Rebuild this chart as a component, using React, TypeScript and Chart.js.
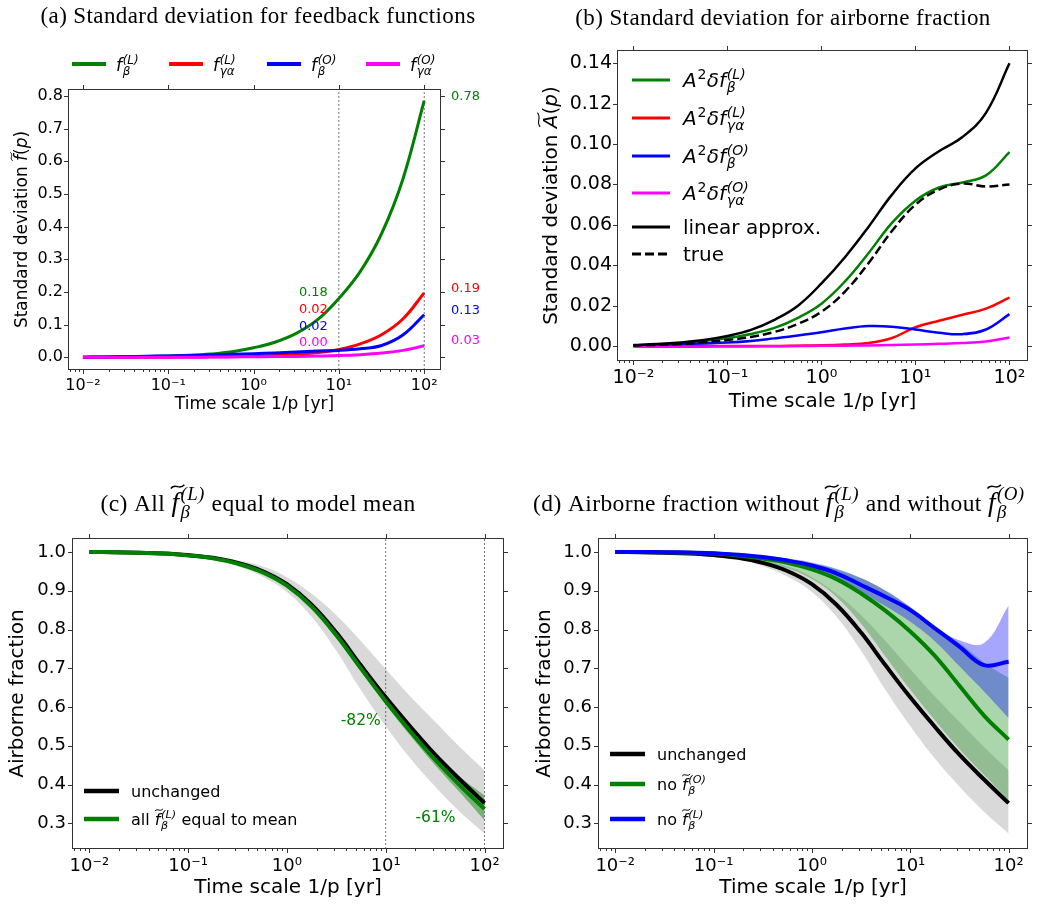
import React, { useEffect, useRef } from "react";
import { Chart, registerables } from "chart.js";
Chart.register(...registerables);

// ---------- shared x values (time scale 1/p in years, quarter decades) ----------
const TIME_SCALE = [0.01, 0.01778, 0.03162, 0.05623, 0.1, 0.1778, 0.3162, 0.5623, 1, 1.778, 3.162, 5.623, 10, 17.78, 31.62, 56.23, 100];
const X_TICKS = [0.01, 0.1, 1, 10, 100];
const X_TICK_LABELS = ["10⁻²", "10⁻¹", "10⁰", "10¹", "10²"];
const X_MIN = 0.006683;
const X_MAX = 157.4;
const X_TITLE = "Time scale 1/p [yr]";

// ---------- panel (a): standard deviation of feedback functions ----------
const A_FB_L = [0.0, 0.001, 0.0015, 0.0025, 0.004, 0.006, 0.01, 0.017, 0.029, 0.046, 0.073, 0.115, 0.18, 0.262, 0.378, 0.545, 0.785];
const A_FGA_L = [0, 0, 0, 0, 0.0004, 0.0008, 0.0012, 0.002, 0.003, 0.005, 0.0085, 0.0143, 0.024, 0.041, 0.069, 0.117, 0.197];
const A_FB_O = [0, 0.001, 0.002, 0.003, 0.004, 0.005, 0.007, 0.009, 0.011, 0.013, 0.016, 0.019, 0.021, 0.026, 0.036, 0.068, 0.13];
const A_FGA_O = [0, 0, 0, 0, 0, 0, 0.0005, 0.001, 0.0015, 0.002, 0.0025, 0.0035, 0.005, 0.008, 0.013, 0.021, 0.035];
const A_Y_TICKS = [0, 0.1, 0.2, 0.3, 0.4, 0.5, 0.6, 0.7, 0.8];
const A_Y_MIN = -0.039;
const A_Y_MAX = 0.821;
const A_VLINES = [10, 100];
const A_MID_LABELS = ["0.18", "0.02", "0.02", "0.00"];
const A_MID_Y = [0.197, 0.145, 0.093, 0.044];
const A_END_LABELS = ["0.78", "0.19", "0.13", "0.03"];
const A_END_Y = [0.797, 0.209, 0.142, 0.05];

// ---------- panel (b): standard deviation of airborne fraction ----------
const B_FB_L = [0.0004, 0.0008, 0.0014, 0.0025, 0.004, 0.006, 0.009, 0.014, 0.021, 0.032, 0.046, 0.061, 0.072, 0.0785, 0.081, 0.0845, 0.096];
const B_FGA_L = [0, 0, 0, 0, 0, 0, 0, 0.0002, 0.0004, 0.0008, 0.0015, 0.004, 0.0093, 0.0125, 0.0155, 0.0185, 0.024];
const B_FB_O = [0.0003, 0.0006, 0.001, 0.0013, 0.0017, 0.0025, 0.0038, 0.0052, 0.0068, 0.0087, 0.0099, 0.0096, 0.0082, 0.0066, 0.0059, 0.0082, 0.0158];
const B_FGA_O = [-0.0003, -0.0003, -0.0003, -0.0003, -0.0002, -0.0002, -0.0001, 0, 0.0001, 0.0002, 0.0003, 0.0005, 0.0008, 0.0011, 0.0015, 0.0023, 0.0042];
const B_LINEAR = [0.0005, 0.001, 0.0018, 0.003, 0.005, 0.008, 0.013, 0.02, 0.031, 0.044, 0.059, 0.075, 0.088, 0.0965, 0.1035, 0.1155, 0.14];
const B_TRUE = [0.0003, 0.0006, 0.001, 0.002, 0.003, 0.0045, 0.007, 0.011, 0.017, 0.027, 0.041, 0.057, 0.07, 0.0775, 0.0805, 0.079, 0.08];
const B_Y_TICKS = [0, 0.02, 0.04, 0.06, 0.08, 0.1, 0.12, 0.14];
const B_Y_MIN = -0.0074;
const B_Y_MAX = 0.1466;

// ---------- panels (c) and (d): airborne fraction ----------
const AF_UNCHANGED = [1.0, 0.9995, 0.998, 0.996, 0.992, 0.985, 0.972, 0.951, 0.917, 0.864, 0.792, 0.707, 0.625, 0.549, 0.477, 0.413, 0.352];
const AF_UNCHANGED_HI = [1.0, 0.9997, 0.999, 0.997, 0.994, 0.989, 0.979, 0.963, 0.935, 0.892, 0.837, 0.77, 0.698, 0.627, 0.562, 0.497, 0.437];
const AF_UNCHANGED_LO = [1.0, 0.9993, 0.997, 0.994, 0.99, 0.981, 0.963, 0.937, 0.897, 0.833, 0.745, 0.643, 0.551, 0.467, 0.395, 0.33, 0.274];
const C_MEAN = [1.0, 0.9995, 0.998, 0.996, 0.991, 0.984, 0.97, 0.948, 0.913, 0.859, 0.785, 0.699, 0.615, 0.537, 0.464, 0.398, 0.337];
const C_MEAN_HI = [1.0, 0.9996, 0.9982, 0.9962, 0.9915, 0.9845, 0.971, 0.95, 0.916, 0.863, 0.791, 0.706, 0.624, 0.548, 0.479, 0.42, 0.372];
const C_MEAN_LO = [1.0, 0.9994, 0.9978, 0.9958, 0.9905, 0.9835, 0.969, 0.946, 0.91, 0.855, 0.779, 0.692, 0.606, 0.526, 0.45, 0.38, 0.308];
const D_NO_O = [1.0, 0.9997, 0.9993, 0.998, 0.996, 0.991, 0.983, 0.972, 0.955, 0.93, 0.893, 0.848, 0.795, 0.732, 0.655, 0.578, 0.516];
const D_NO_O_HI = [1.0, 0.9998, 0.9996, 0.999, 0.998, 0.995, 0.99, 0.982, 0.97, 0.955, 0.932, 0.9, 0.858, 0.81, 0.765, 0.715, 0.675];
const D_NO_O_LO = [1.0, 0.9996, 0.999, 0.997, 0.993, 0.986, 0.975, 0.958, 0.93, 0.884, 0.815, 0.73, 0.645, 0.566, 0.492, 0.425, 0.36];
const D_NO_L = [1.0, 0.9998, 0.9995, 0.9985, 0.997, 0.993, 0.987, 0.978, 0.965, 0.945, 0.915, 0.884, 0.85, 0.803, 0.756, 0.708, 0.717];
const D_NO_L_HI = [1.0, 0.9999, 0.9997, 0.999, 0.998, 0.995, 0.99, 0.983, 0.973, 0.957, 0.933, 0.9, 0.858, 0.807, 0.772, 0.765, 0.862];
const D_NO_L_LO = [1.0, 0.9997, 0.9993, 0.998, 0.996, 0.991, 0.984, 0.973, 0.957, 0.933, 0.897, 0.86, 0.82, 0.77, 0.705, 0.64, 0.572];
const AF_Y_TICKS = [0.3, 0.4, 0.5, 0.6, 0.7, 0.8, 0.9, 1.0];
const AF_Y_MIN = 0.2337;
const AF_Y_MAX = 1.0361;
const C_VLINES = [10, 100];
const C_NOTES = ["-82%", "-61%"];
const C_NOTE_X = [10, 100];
const C_NOTE_Y = [0.564, 0.314];

// ---------- styling ----------
const GREEN = "#008000";
const RED = "#ff0000";
const BLUE = "#0000ff";
const MAGENTA = "#ff00ff";
const BLACK = "#000000";
const SANS = '"DejaVu Sans", sans-serif';
const SERIF = '"Liberation Serif", serif';
const TENSION = 0.4;

Chart.defaults.font.family = SANS;
Chart.defaults.color = "#000";

type Piece = { t: string; it?: boolean; tilde?: boolean; sup?: string; sub?: string; supIt?: boolean; ms?: number };

function fnt(size: number, it: boolean, fam: string) {
  return `${it ? "italic " : ""}${size}px ${fam}`;
}

function measurePiece(ctx: any, p: Piece, size0: number, fam: string) {
  const size = size0 * (p.ms || 1);
  ctx.font = fnt(size, !!p.it, fam);
  const bw = ctx.measureText(p.t).width;
  let sw = 0;
  if (p.sup || p.sub) {
    const s = size * 0.7;
    ctx.font = fnt(s, !!p.supIt, fam);
    const a = p.sup ? ctx.measureText(p.sup).width : 0;
    ctx.font = fnt(s, true, fam);
    const b = p.sub ? ctx.measureText(p.sub).width : 0;
    sw = Math.max(a, b) + size * 0.06;
  }
  return { bw, w: bw + sw };
}

function drawRich(ctx: any, pieces: Piece[], x: number, cy: number, size0: number, fam: string, color: string, align: string, spacing = 0) {
  ctx.save();
  ctx.letterSpacing = spacing + "px";
  const ms = pieces.map((p) => measurePiece(ctx, p, size0, fam));
  const total = ms.reduce((s, m) => s + m.w, 0);
  let cx = align === "left" ? x : align === "center" ? x - total / 2 : x - total;
  const base = cy + size0 * 0.36;
  ctx.fillStyle = color;
  ctx.strokeStyle = color;
  ctx.textAlign = "left";
  ctx.textBaseline = "alphabetic";
  pieces.forEach((p, i) => {
    const size = size0 * (p.ms || 1);
    ctx.font = fnt(size, !!p.it, fam);
    ctx.fillText(p.t, cx, base);
    const bw = ms[i].bw;
    if (p.tilde) {
      const w = Math.max(bw * 1.05, size * 0.5);
      const x0 = cx + bw / 2 - w / 2 + size * 0.08;
      const y0 = base - size * 0.92;
      const h = size * 0.07;
      ctx.lineWidth = Math.max(1, size * 0.055);
      ctx.beginPath();
      ctx.moveTo(x0, y0 + h);
      ctx.bezierCurveTo(x0 + w * 0.35, y0 - h * 2.2, x0 + w * 0.65, y0 + h * 2.2, x0 + w, y0 - h);
      ctx.stroke();
    }
    if (p.sup || p.sub) {
      const s = size * 0.7;
      const sx = cx + bw + size * 0.04;
      if (p.sup) {
        ctx.font = fnt(s, !!p.supIt, fam);
        ctx.fillText(p.sup, sx, base - size * 0.42);
      }
      if (p.sub) {
        ctx.font = fnt(s, true, fam);
        ctx.fillText(p.sub, sx, base + size * 0.24);
      }
    }
    cx += ms[i].w;
  });
  ctx.restore();
  return total;
}

function drawRotated(ctx: any, pieces: Piece[], x: number, y: number, size: number, fam: string) {
  ctx.save();
  ctx.translate(x, y);
  ctx.rotate(-Math.PI / 2);
  drawRich(ctx, pieces, 0, 0, size, fam, "#000", "center");
  ctx.restore();
}

function drawFrame(chart: any, yTicks: number[]) {
  const { ctx, chartArea: a } = chart;
  const xs = chart.scales.x;
  const ys = chart.scales.y;
  ctx.save();
  ctx.strokeStyle = "#333";
  ctx.lineWidth = 1;
  ctx.setLineDash([]);
  const L = Math.round(a.left) + 0.5;
  const R = Math.round(a.right) - 0.5;
  const T = Math.round(a.top) + 0.5;
  const B = Math.round(a.bottom) - 0.5;
  ctx.strokeRect(L, T, R - L, B - T);
  ctx.beginPath();
  for (const v of X_TICKS) {
    const px = Math.round(xs.getPixelForValue(v)) + 0.5;
    ctx.moveTo(px, B);
    ctx.lineTo(px, B + 4.5);
    ctx.moveTo(px, T);
    ctx.lineTo(px, T - 4.5);
  }
  for (let e = -3; e <= 2; e++) {
    for (let m = 2; m <= 9; m++) {
      const v = m * Math.pow(10, e);
      if (v < xs.min || v > xs.max) continue;
      const px = Math.round(xs.getPixelForValue(v)) + 0.5;
      ctx.moveTo(px, B);
      ctx.lineTo(px, B + 2.5);
    }
  }
  for (const v of yTicks) {
    const py = Math.round(ys.getPixelForValue(v)) + 0.5;
    ctx.moveTo(L - 4.5, py);
    ctx.lineTo(L, py);
    ctx.moveTo(R, py);
    ctx.lineTo(R + 4.5, py);
  }
  ctx.stroke();
  ctx.restore();
}

function legendLine(ctx: any, x0: number, x1: number, y: number, color: string, width: number, dash: number[] = []) {
  ctx.save();
  ctx.strokeStyle = color;
  ctx.lineWidth = width;
  ctx.setLineDash(dash);
  ctx.beginPath();
  ctx.moveTo(x0, y);
  ctx.lineTo(x1, y);
  ctx.stroke();
  ctx.restore();
}

function pts(arr: number[]) {
  return TIME_SCALE.map((x, i) => ({ x, y: arr[i] }));
}

function line(arr: number[], color: string, width: number, order: number, extra: any = {}) {
  return { data: pts(arr), borderColor: color, backgroundColor: color, borderWidth: width, pointRadius: 0, fill: false, order, tension: TENSION, borderCapStyle: "butt", ...extra };
}
function bandHi(arr: number[], lowerIndex: number, color: string, order: number) {
  return { data: pts(arr), borderColor: "rgba(0,0,0,0)", backgroundColor: color, borderWidth: 0, pointRadius: 0, fill: { target: lowerIndex }, order, tension: TENSION };
}
function bandLo(arr: number[], order: number) {
  return { data: pts(arr), borderColor: "rgba(0,0,0,0)", backgroundColor: "rgba(0,0,0,0)", borderWidth: 0, pointRadius: 0, fill: false, order, tension: TENSION };
}
function vline(x: number, y0: number, y1: number, order: number) {
  return { data: [{ x, y: y0 }, { x, y: y1 }], borderColor: "#555", borderWidth: 0.8, borderDash: [2, 2], pointRadius: 0, fill: false, order, tension: 0 };
}

type Geom = { top: number; right: number; bottom: number; yW: number; xH: number };

function baseOptions(g: Geom, yMin: number, yMax: number, yTicks: number[], yDec: number, tickSize: number, xTitleSize: number, tickPadX: number, tickPadY: number, yTitle: any) {
  return {
    responsive: false,
    maintainAspectRatio: false,
    animation: false,
    devicePixelRatio: 1,
    layout: { padding: { left: 0, top: g.top, right: g.right, bottom: g.bottom } },
    plugins: { legend: { display: false }, tooltip: { enabled: false }, title: { display: false } },
    scales: {
      x: {
        type: "logarithmic",
        min: X_MIN,
        max: X_MAX,
        bounds: "data",
        afterBuildTicks: (s: any) => {
          s.ticks = X_TICKS.map((v) => ({ value: v }));
        },
        afterFit: (s: any) => {
          s.height = g.xH;
        },
        ticks: {
          autoSkip: false,
          maxRotation: 0,
          padding: tickPadX,
          font: { family: SANS, size: tickSize },
          color: "#000",
          callback: (_v: any, i: number) => X_TICK_LABELS[i],
        },
        grid: { display: false, drawTicks: false },
        border: { display: false },
        title: { display: true, text: X_TITLE, font: { family: SANS, size: xTitleSize }, color: "#000", padding: 0 },
      },
      y: {
        type: "linear",
        min: yMin,
        max: yMax,
        bounds: "data",
        afterBuildTicks: (s: any) => {
          s.ticks = yTicks.map((v) => ({ value: v }));
        },
        afterFit: (s: any) => {
          s.width = g.yW;
        },
        ticks: {
          padding: tickPadY,
          font: { family: SANS, size: tickSize },
          color: "#000",
          callback: (v: any) => Number(v).toFixed(yDec),
        },
        grid: { display: false, drawTicks: false },
        border: { display: false },
        title: yTitle,
      },
    },
  };
}

const F_L: Piece = { t: "f", it: true, tilde: true, sup: "(L)", sub: "β", supIt: true };
const F_O: Piece = { t: "f", it: true, tilde: true, sup: "(O)", sub: "β", supIt: true };
const TF_L: Piece = { ...F_L, ms: 1.15 };
const TF_O: Piece = { ...F_O, ms: 1.15 };

function configA(): any {
  const datasets: any[] = [
    line(A_FB_L, GREEN, 3, 4),
    line(A_FGA_L, RED, 3, 3),
    line(A_FB_O, BLUE, 3, 2),
    line(A_FGA_O, MAGENTA, 3, 1),
    ...A_VLINES.map((x) => vline(x, A_Y_MIN, A_Y_MAX, 0)),
  ];
  const g = { top: 89, right: 81, bottom: 15, yW: 68, xH: 45 };
  const options = baseOptions(g, A_Y_MIN, A_Y_MAX, A_Y_TICKS, 1, 16, 17, 6, 5, { display: false });
  const legend = [
    { color: GREEN, x: 72, p: [{ t: "f", it: true, sup: "(L)", sub: "β", supIt: true }] },
    { color: RED, x: 169, p: [{ t: "f", it: true, sup: "(L)", sub: "γα", supIt: true }] },
    { color: BLUE, x: 267, p: [{ t: "f", it: true, sup: "(O)", sub: "β", supIt: true }] },
    { color: MAGENTA, x: 366, p: [{ t: "f", it: true, sup: "(O)", sub: "γα", supIt: true }] },
  ];
  const colors = [GREEN, RED, BLUE, MAGENTA];
  const plugin = {
    id: "decoA",
    afterDraw(chart: any) {
      const { ctx, chartArea: a } = chart;
      const xs = chart.scales.x;
      const ys = chart.scales.y;
      drawFrame(chart, A_Y_TICKS);
      drawRich(ctx, [{ t: "(a) Standard deviation for feedback functions" }], 258, 15, 23, SERIF, "#000", "center", 0.4);
      drawRotated(ctx, [{ t: "Standard deviation " }, { t: "f", it: true, tilde: true }, { t: "(" }, { t: "p", it: true }, { t: ")" }], 21, (a.top + a.bottom) / 2, 17, SANS);
      legend.forEach((l) => {
        legendLine(ctx, l.x, l.x + 34, a.top - 25, l.color, 4);
        drawRich(ctx, l.p as Piece[], l.x + 44, a.top - 24, 17, SANS, "#000", "left");
      });
      ctx.save();
      ctx.font = `13px ${SANS}`;
      ctx.textBaseline = "middle";
      const xm = xs.getPixelForValue(10) - 11;
      ctx.textAlign = "right";
      A_MID_LABELS.forEach((s, i) => {
        ctx.fillStyle = colors[i];
        ctx.fillText(s, xm, ys.getPixelForValue(A_MID_Y[i]));
      });
      ctx.textAlign = "left";
      A_END_LABELS.forEach((s, i) => {
        ctx.fillStyle = colors[i];
        ctx.fillText(s, a.right + 10, ys.getPixelForValue(A_END_Y[i]));
      });
      ctx.restore();
    },
  };
  return { type: "line", data: { datasets }, options, plugins: [plugin] };
}

function configB(): any {
  const datasets: any[] = [
    line(B_FB_L, GREEN, 2.5, 6),
    line(B_FGA_L, RED, 2.5, 5),
    line(B_FB_O, BLUE, 2.5, 4),
    line(B_FGA_O, MAGENTA, 2.5, 3),
    line(B_LINEAR, BLACK, 2.5, 2),
    line(B_TRUE, BLACK, 2.5, 1, { borderDash: [9, 4] }),
  ];
  const g = { top: 50, right: 17, bottom: 16, yW: 95, xH: 53 };
  const options = baseOptions(g, B_Y_MIN, B_Y_MAX, B_Y_TICKS, 2, 19, 20, 6, 5, { display: false });
  const items: any[] = [
    { color: GREEN, y: 80, p: [{ t: "A", it: true, sup: "2" }, { t: "δf", it: true, sup: "(L)", sub: "β", supIt: true }] },
    { color: RED, y: 118, p: [{ t: "A", it: true, sup: "2" }, { t: "δf", it: true, sup: "(L)", sub: "γα", supIt: true }] },
    { color: BLUE, y: 156, p: [{ t: "A", it: true, sup: "2" }, { t: "δf", it: true, sup: "(O)", sub: "β", supIt: true }] },
    { color: MAGENTA, y: 193, p: [{ t: "A", it: true, sup: "2" }, { t: "δf", it: true, sup: "(O)", sub: "γα", supIt: true }] },
    { color: BLACK, y: 227, p: [{ t: "linear approx." }] },
    { color: BLACK, y: 254, p: [{ t: "true" }], dash: [9, 4] },
  ];
  const plugin = {
    id: "decoB",
    afterDraw(chart: any) {
      const { ctx, chartArea: a } = chart;
      drawFrame(chart, B_Y_TICKS);
      drawRich(ctx, [{ t: "(b) Standard deviation for airborne fraction" }], 261, 17, 23, SERIF, "#000", "center", 0.4);
      drawRotated(ctx, [{ t: "Standard deviation " }, { t: "A", it: true, tilde: true }, { t: "(" }, { t: "p", it: true }, { t: ")" }], 28, (a.top + a.bottom) / 2, 20, SANS);
      items.forEach((l) => {
        legendLine(ctx, 110, 148, l.y, l.color, 3, l.dash || []);
        drawRich(ctx, l.p, 161, l.y, 20, SANS, "#000", "left");
      });
    },
  };
  return { type: "line", data: { datasets }, options, plugins: [plugin] };
}

function configC(): any {
  const datasets: any[] = [
    bandLo(AF_UNCHANGED_LO, 10), // 0
    bandHi(AF_UNCHANGED_HI, 0, "rgba(128,128,128,0.3)", 10), // 1
    bandLo(C_MEAN_LO, 9), // 2
    bandHi(C_MEAN_HI, 2, "rgba(0,128,0,0.45)", 9), // 3
    ...C_VLINES.map((x) => vline(x, AF_Y_MIN, AF_Y_MAX, 5)),
    line(AF_UNCHANGED, BLACK, 4, 2),
    line(C_MEAN, GREEN, 4, 1),
  ];
  const g = { top: 108, right: 18, bottom: 6, yW: 72, xH: 51 };
  const options = baseOptions(g, AF_Y_MIN, AF_Y_MAX, AF_Y_TICKS, 1, 18, 20, 7, 6, {
    display: true, text: "Airborne fraction", font: { family: SANS, size: 20 }, color: "#000", padding: { top: 6, bottom: 0 },
  });
  const plugin = {
    id: "decoC",
    afterDraw(chart: any) {
      const { ctx } = chart;
      const xs = chart.scales.x;
      const ys = chart.scales.y;
      drawFrame(chart, AF_Y_TICKS);
      drawRich(ctx, [{ t: "(c) All " }, { ...TF_L }, { t: " equal to model mean" }], 258, 73, 23.5, SERIF, "#000", "center", 0.4);
      legendLine(ctx, 84, 119, 361, BLACK, 4.5);
      drawRich(ctx, [{ t: "unchanged" }], 131, 361, 16, SANS, "#000", "left");
      legendLine(ctx, 84, 119, 389, GREEN, 4.5);
      drawRich(ctx, [{ t: "all " }, { ...F_L }, { t: " equal to mean" }], 131, 389, 16, SANS, "#000", "left");
      ctx.save();
      ctx.font = `15.5px ${SANS}`;
      ctx.fillStyle = GREEN;
      ctx.textAlign = "right";
      ctx.textBaseline = "middle";
      const dx = [-5, -29];
      C_NOTES.forEach((s, i) => {
        ctx.fillText(s, xs.getPixelForValue(C_NOTE_X[i]) + dx[i], ys.getPixelForValue(C_NOTE_Y[i]));
      });
      ctx.restore();
    },
  };
  return { type: "line", data: { datasets }, options, plugins: [plugin] };
}

function configD(): any {
  const datasets: any[] = [
    bandLo(AF_UNCHANGED_LO, 12), // 0
    bandHi(AF_UNCHANGED_HI, 0, "rgba(128,128,128,0.3)", 12), // 1
    bandLo(D_NO_O_LO, 11), // 2
    bandHi(D_NO_O_HI, 2, "rgba(0,128,0,0.33)", 11), // 3
    bandLo(D_NO_L_LO, 10), // 4
    bandHi(D_NO_L_HI, 4, "rgba(0,0,255,0.35)", 10), // 5
    line(AF_UNCHANGED, BLACK, 4, 3),
    line(D_NO_O, GREEN, 4, 2),
    line(D_NO_L, BLUE, 4, 1),
  ];
  const g = { top: 108, right: 17, bottom: 6, yW: 76, xH: 51 };
  const options = baseOptions(g, AF_Y_MIN, AF_Y_MAX, AF_Y_TICKS, 1, 18, 20, 7, 6, {
    display: true, text: "Airborne fraction", font: { family: SANS, size: 20 }, color: "#000", padding: { top: 11, bottom: 0 },
  });
  const plugin = {
    id: "decoD",
    afterDraw(chart: any) {
      const { ctx } = chart;
      drawFrame(chart, AF_Y_TICKS);
      drawRich(ctx, [{ t: "(d) Airborne fraction without " }, { ...TF_L }, { t: " and without " }, { ...TF_O }], 257, 73, 23.5, SERIF, "#000", "center", 0.4);
      legendLine(ctx, 88, 123, 324, BLACK, 4.5);
      drawRich(ctx, [{ t: "unchanged" }], 135, 324, 16, SANS, "#000", "left");
      legendLine(ctx, 88, 123, 354, GREEN, 4.5);
      drawRich(ctx, [{ t: "no " }, { ...F_O }], 135, 354, 16, SANS, "#000", "left");
      legendLine(ctx, 88, 123, 389, BLUE, 4.5);
      drawRich(ctx, [{ t: "no " }, { ...F_L }], 135, 389, 16, SANS, "#000", "left");
    },
  };
  return { type: "line", data: { datasets }, options, plugins: [plugin] };
}

export default function App() {
  const ra = useRef<HTMLCanvasElement>(null);
  const rb = useRef<HTMLCanvasElement>(null);
  const rc = useRef<HTMLCanvasElement>(null);
  const rd = useRef<HTMLCanvasElement>(null);
  useEffect(() => {
    const charts = [
      new Chart(ra.current as any, configA()),
      new Chart(rb.current as any, configB()),
      new Chart(rc.current as any, configC()),
      new Chart(rd.current as any, configD()),
    ];
    return () => charts.forEach((c) => c.destroy());
  }, []);
  const abs = (l: number, t: number): any => ({ position: "absolute", left: l, top: t });
  return (
    <div style={{ position: "absolute", left: 0, top: 0, width: 1045, height: 906, background: "#fff", overflow: "hidden" }}>
      <canvas ref={ra} width={522} height={430} style={abs(0, 0)} />
      <canvas ref={rb} width={523} height={430} style={abs(522, 0)} />
      <canvas ref={rc} width={522} height={476} style={abs(0, 430)} />
      <canvas ref={rd} width={523} height={476} style={abs(522, 430)} />
    </div>
  );
}
